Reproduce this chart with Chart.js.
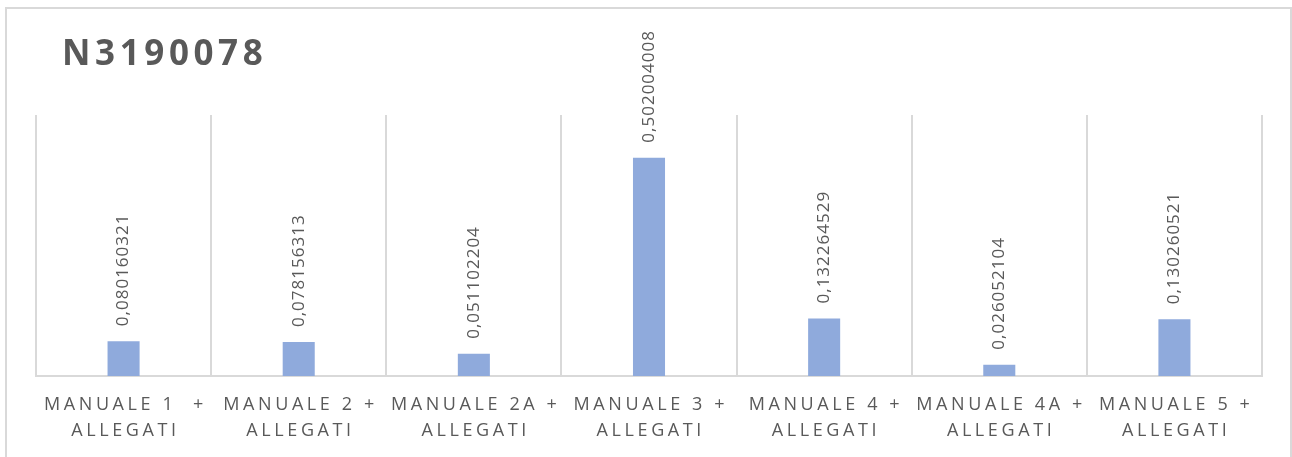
<!DOCTYPE html>
<html>
<head>
<meta charset="utf-8">
<title>N3190078</title>
<script src="https://cdn.jsdelivr.net/npm/chart.js@4/dist/chart.umd.min.js"></script>
<style>
  html, body { margin: 0; padding: 0; background: #ffffff; }
  #wrap { width: 1292px; height: 457px; }
</style>
</head>
<body>
<div id="wrap"><canvas id="chart" width="1292" height="457"></canvas></div>
<script>
// Chart data
const chartTitle = 'N3190078';
const categories = [
  ['MANUALE 1  +', 'ALLEGATI'],
  ['MANUALE 2 +', 'ALLEGATI'],
  ['MANUALE 2A +', 'ALLEGATI'],
  ['MANUALE 3 +', 'ALLEGATI'],
  ['MANUALE 4 +', 'ALLEGATI'],
  ['MANUALE 4A +', 'ALLEGATI'],
  ['MANUALE 5 +', 'ALLEGATI']
];
const values = [0.080160321, 0.078156313, 0.051102204, 0.502004008, 0.132264529, 0.026052104, 0.130260521];
const yMin = 0;
const yMax = 0.6;

const TEXT = '#595959';
const GRID = '#d9d9d9';
const BAR = '#8faadc';

// Draw a string with extra spacing between characters
function spacedText(ctx, text, x, y, spacing, align) {
  const chars = Array.from(text);
  const widths = chars.map(c => ctx.measureText(c).width);
  const total = widths.reduce((a, b) => a + b, 0) + spacing * (chars.length - 1);
  let start = x;
  if (align === 'center') start = x - total / 2;
  else if (align === 'right') start = x - total;
  const prevAlign = ctx.textAlign;
  ctx.textAlign = 'left';
  let cx = start;
  chars.forEach((c, i) => {
    ctx.fillText(c, cx, y);
    cx += widths[i] + spacing;
  });
  ctx.textAlign = prevAlign;
}

// Frame, title, category labels and value labels
const decorations = {
  id: 'decorations',
  beforeDraw(chart) {
    const ctx = chart.ctx;
    ctx.save();
    ctx.fillStyle = '#ffffff';
    ctx.fillRect(0, 0, chart.width, chart.height);
    ctx.strokeStyle = GRID;
    ctx.lineWidth = 2;
    ctx.strokeRect(6, 8, 1285, 500);
    ctx.restore();
  },
  afterDraw(chart) {
    const ctx = chart.ctx;
    const xScale = chart.scales.x;
    const meta = chart.getDatasetMeta(0);
    ctx.save();

    // title
    ctx.fillStyle = TEXT;
    ctx.font = 'bold 35px "Open Sans"';
    ctx.textBaseline = 'alphabetic';
    spacedText(ctx, chartTitle, 62, 65, 4.6, 'left');

    // category labels
    ctx.font = '18px "Open Sans"';
    ctx.fillStyle = TEXT;
    categories.forEach((lines, i) => {
      const x = xScale.getPixelForTick(i);
      lines.forEach((line, j) => {
        spacedText(ctx, line, x, 410 + j * 26, 3.6, 'center');
      });
    });

    // value labels, rotated above each bar
    ctx.font = '17px "Open Sans"';
    meta.data.forEach((bar, i) => {
      const label = String(values[i]).replace('.', ',');
      ctx.save();
      ctx.translate(bar.x, bar.y - 15);
      ctx.rotate(-Math.PI / 2);
      ctx.textBaseline = 'middle';
      spacedText(ctx, label, 0, 0, 1, 'left');
      ctx.restore();
    });
    ctx.restore();
  }
};

new Chart(document.getElementById('chart'), {
  type: 'bar',
  data: {
    labels: categories,
    datasets: [{
      data: values,
      backgroundColor: BAR,
      borderWidth: 0,
      categoryPercentage: 1,
      barPercentage: 0.183
    }]
  },
  options: {
    responsive: false,
    animation: false,
    layout: { padding: { left: 36, right: 30, top: 115, bottom: 81 } },
    plugins: {
      legend: { display: false },
      title: { display: false },
      tooltip: { enabled: false }
    },
    scales: {
      x: {
        offset: true,
        grid: { display: true, offset: true, color: GRID, lineWidth: 2, drawTicks: false },
        border: { display: true, color: GRID, width: 2 },
        ticks: { display: false }
      },
      y: {
        display: false,
        min: yMin,
        max: yMax
      }
    }
  },
  plugins: [decorations]
});
</script>
</body>
</html>
